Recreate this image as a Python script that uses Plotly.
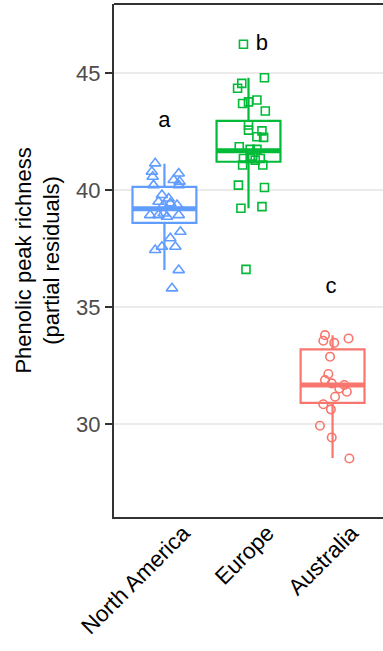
import plotly.graph_objects as go

# ---- data ----
regions = ["North America", "Europe", "Australia"]
colors = ["#619CFF", "#00BA38", "#F8766D"]
symbols = ["triangle-up-open", "square-open", "circle-open"]
marker_sizes = [10, 8, 8.5]

# box statistics
q1 = [38.60, 41.21, 30.91]
median = [39.20, 41.68, 31.67]
q3 = [40.14, 42.96, 33.19]
lower_whisker = [36.58, 39.22, 28.55]
upper_whisker = [41.12, 44.80, 33.80]

# jittered points: (offset from group centre, value)
na_offset = [-0.11, -0.15, -0.14, -0.13, 0.17, 0.11, 0.18, 0.17, -0.03, -0.07, 0.05, 0.07, 0.15,
             -0.01, -0.17, -0.07, 0.03, 0.17, -0.01, 0.19, 0.07, 0.13, -0.03, -0.11, 0.17, 0.09]
na_value = [41.14, 40.78, 40.57, 40.21, 40.71, 40.43, 40.36, 40.21, 39.79, 39.50, 39.64, 39.43, 39.36,
            39.36, 38.93, 38.93, 38.86, 38.93, 39.00, 38.22, 37.94, 37.58, 37.58, 37.44, 36.58, 35.80]

eu_offset = [-0.06, 0.19, -0.08, -0.13, -0.07, 0.00, 0.10, 0.20, 0.00, 0.00, 0.16, 0.10, 0.18, -0.11,
             0.02, 0.10, -0.06, 0.02, 0.08, 0.14, -0.07, 0.17, 0.05, -0.12, 0.19, -0.09, 0.16, -0.03]
eu_value = [46.23, 44.80, 44.56, 44.35, 43.70, 43.77, 43.85, 43.38, 42.78, 42.56, 42.53, 42.28, 42.25, 41.85,
            41.74, 41.74, 41.35, 41.35, 41.28, 41.35, 41.07, 41.07, 41.45, 40.21, 40.11, 39.22, 39.29, 36.61]

au_offset = [-0.09, -0.11, 0.02, 0.19, -0.03, -0.05, -0.09, -0.01, 0.14, 0.08, 0.17, 0.03, -0.11,
             -0.02, -0.15, -0.01, 0.20]
au_value = [33.80, 33.56, 33.47, 33.66, 32.88, 32.14, 31.88, 31.74, 31.67, 31.52, 31.38, 31.17, 30.85,
            30.63, 29.93, 29.43, 28.53]

point_offsets = [na_offset, eu_offset, au_offset]
point_values = [na_value, eu_value, au_value]

# significance letters
letters = ["a", "b", "c"]
letter_offset = [0.0, 0.16, -0.02]
letter_y = [42.95, 46.2, 35.85]

y_ticks = [30, 35, 40, 45]
y_range = [26.03, 47.95]
x_range = [-0.6, 2.6]
box_width = 0.76

FONT = "Liberation Sans, Arial, sans-serif"

fig = go.Figure()

for i, reg in enumerate(regions):
    fig.add_trace(go.Box(
        x=[i], q1=[q1[i]], median=[median[i]], q3=[q3[i]],
        lowerfence=[lower_whisker[i]], upperfence=[upper_whisker[i]],
        width=box_width, whiskerwidth=0, fillcolor="white",
        line=dict(color=colors[i], width=2.2), boxpoints=False,
        showlegend=False, hoverinfo="skip",
    ))
    # thicker median bar (ggplot style)
    fig.add_trace(go.Scatter(
        x=[i - box_width / 2, i + box_width / 2], y=[median[i], median[i]],
        mode="lines", line=dict(color=colors[i], width=5),
        showlegend=False, hoverinfo="skip",
    ))

for i, reg in enumerate(regions):
    fig.add_trace(go.Scatter(
        x=[i + o for o in point_offsets[i]], y=point_values[i],
        mode="markers",
        marker=dict(symbol=symbols[i], size=marker_sizes[i], color=colors[i],
                    line=dict(color=colors[i], width=1.6)),
        showlegend=False, name=reg,
    ))

fig.add_trace(go.Scatter(
    x=[i + letter_offset[i] for i in range(3)], y=letter_y,
    mode="text", text=letters, textfont=dict(family=FONT, size=22, color="black"),
    showlegend=False, hoverinfo="skip",
))

fig.update_layout(
    width=383, height=651,
    margin=dict(l=114, r=0, t=4, b=134),
    paper_bgcolor="white", plot_bgcolor="white",
    font=dict(family=FONT),
)
fig.update_xaxes(
    range=x_range, tickmode="array", tickvals=[0, 1, 2], ticktext=regions,
    tickangle=-45, tickfont=dict(family=FONT, size=22.5, color="black"),
    ticklabelshift=19, ticklabelstandoff=-8,
    showgrid=False, zeroline=False,
    showline=True, linecolor="#333333", linewidth=2,
    ticks="",
)
fig.update_yaxes(
    range=y_range, tickmode="array", tickvals=y_ticks,
    tickfont=dict(family=FONT, size=22, color="#4D4D4D"),
    showgrid=True, gridcolor="#EBEBEB", gridwidth=1.6, zeroline=False,
    showline=True, linecolor="#333333", linewidth=2,
    ticks="outside", ticklen=7, tickcolor="#333333", tickwidth=1.5,
    title=dict(text="Phenolic peak richness<br>(partial residuals)",
               font=dict(family=FONT, size=22, color="black"), standoff=10),
)
fig.add_shape(type="line", xref="paper", yref="paper", x0=0, x1=1, y0=1, y1=1,
              line=dict(color="#333333", width=2))

fig.write_html("out.html", post_script="document.body.style.margin='0';",
               config={"displayModeBar": False})
